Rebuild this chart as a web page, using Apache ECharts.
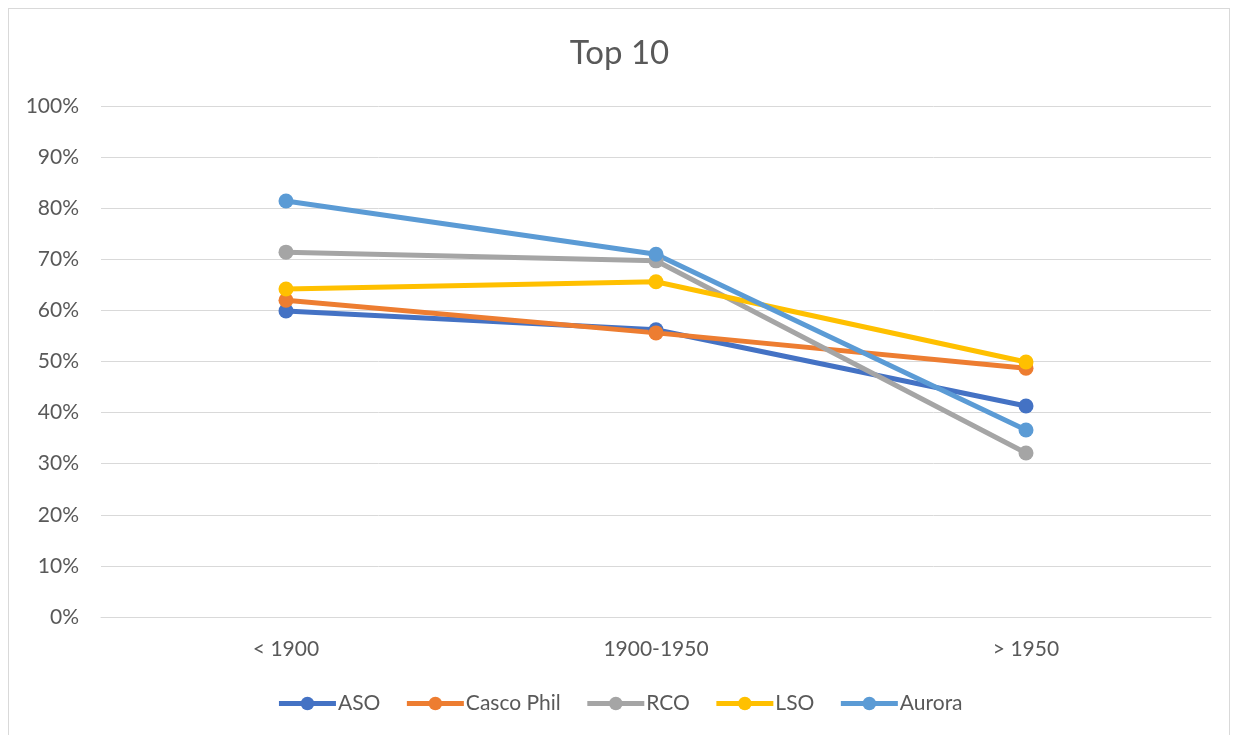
<!DOCTYPE html>
<html>
<head>
<meta charset="utf-8">
<script src="https://cdn.jsdelivr.net/npm/echarts@6/dist/echarts.min.js"></script>
<style>
  html, body { margin: 0; padding: 0; background: #fff; }
  #frame { position: absolute; left: 8px; top: 8px; width: 1222px; height: 740px; border: 1px solid #d9d9d9; box-sizing: border-box; }
  #chart { position: absolute; left: 0; top: 0; width: 1239px; height: 735px; }
</style>
</head>
<body>
<div id="frame"></div>
<div id="chart"></div>
<script>
const categories = ['< 1900', '1900-1950', '> 1950'];
const aso = [59.9, 56.2, 41.3];
const cascoPhil = [62.0, 55.6, 48.7];
const rco = [71.4, 69.7, 32.1];
const lso = [64.2, 65.6, 49.9];
const aurora = [81.4, 71.0, 36.6];

const seriesDefs = [
  { name: 'ASO', data: aso, color: '#4472c4' },
  { name: 'Casco Phil', data: cascoPhil, color: '#ed7d31' },
  { name: 'RCO', data: rco, color: '#a5a5a5' },
  { name: 'LSO', data: lso, color: '#ffc000' },
  { name: 'Aurora', data: aurora, color: '#5b9bd5' }
];

const font = 'Lato, Calibri, sans-serif';
const chart = echarts.init(document.getElementById('chart'));
chart.setOption({
  animation: false,
  title: {
    text: 'Top 10',
    left: 'center',
    top: 32,
    textStyle: { fontFamily: font, fontSize: 33, fontWeight: 'normal', color: '#595959' }
  },
  legend: {
    bottom: 16,
    left: 'center',
    itemWidth: 57,
    itemHeight: 17,
    itemGap: 24,
    lineStyle: { width: 5 },
    textStyle: { fontFamily: font, fontSize: 21, color: '#595959', padding: [0, 0, 0, -3] },
    data: seriesDefs.map(s => s.name)
  },
  grid: { left: 101, right: 28, top: 106, bottom: 118, containLabel: false },
  xAxis: {
    type: 'category',
    data: categories,
    boundaryGap: true,
    axisLine: { lineStyle: { color: '#d9d9d9', width: 1 } },
    axisTick: { show: false },
    axisLabel: { color: '#595959', fontFamily: font, fontSize: 21, margin: 22 }
  },
  yAxis: {
    type: 'value',
    min: 0,
    max: 100,
    interval: 10,
    axisLine: { show: false },
    axisTick: { show: false },
    axisLabel: { formatter: '{value}%', color: '#595959', fontFamily: font, fontSize: 21, margin: 22 },
    splitLine: { lineStyle: { color: '#d9d9d9', width: 1 } }
  },
  series: seriesDefs.map(s => ({
    name: s.name,
    type: 'line',
    data: s.data,
    symbol: 'circle',
    symbolSize: 15,
    showSymbol: true,
    lineStyle: { width: 5, color: s.color },
    itemStyle: { color: s.color }
  }))
});
</script>
</body>
</html>
